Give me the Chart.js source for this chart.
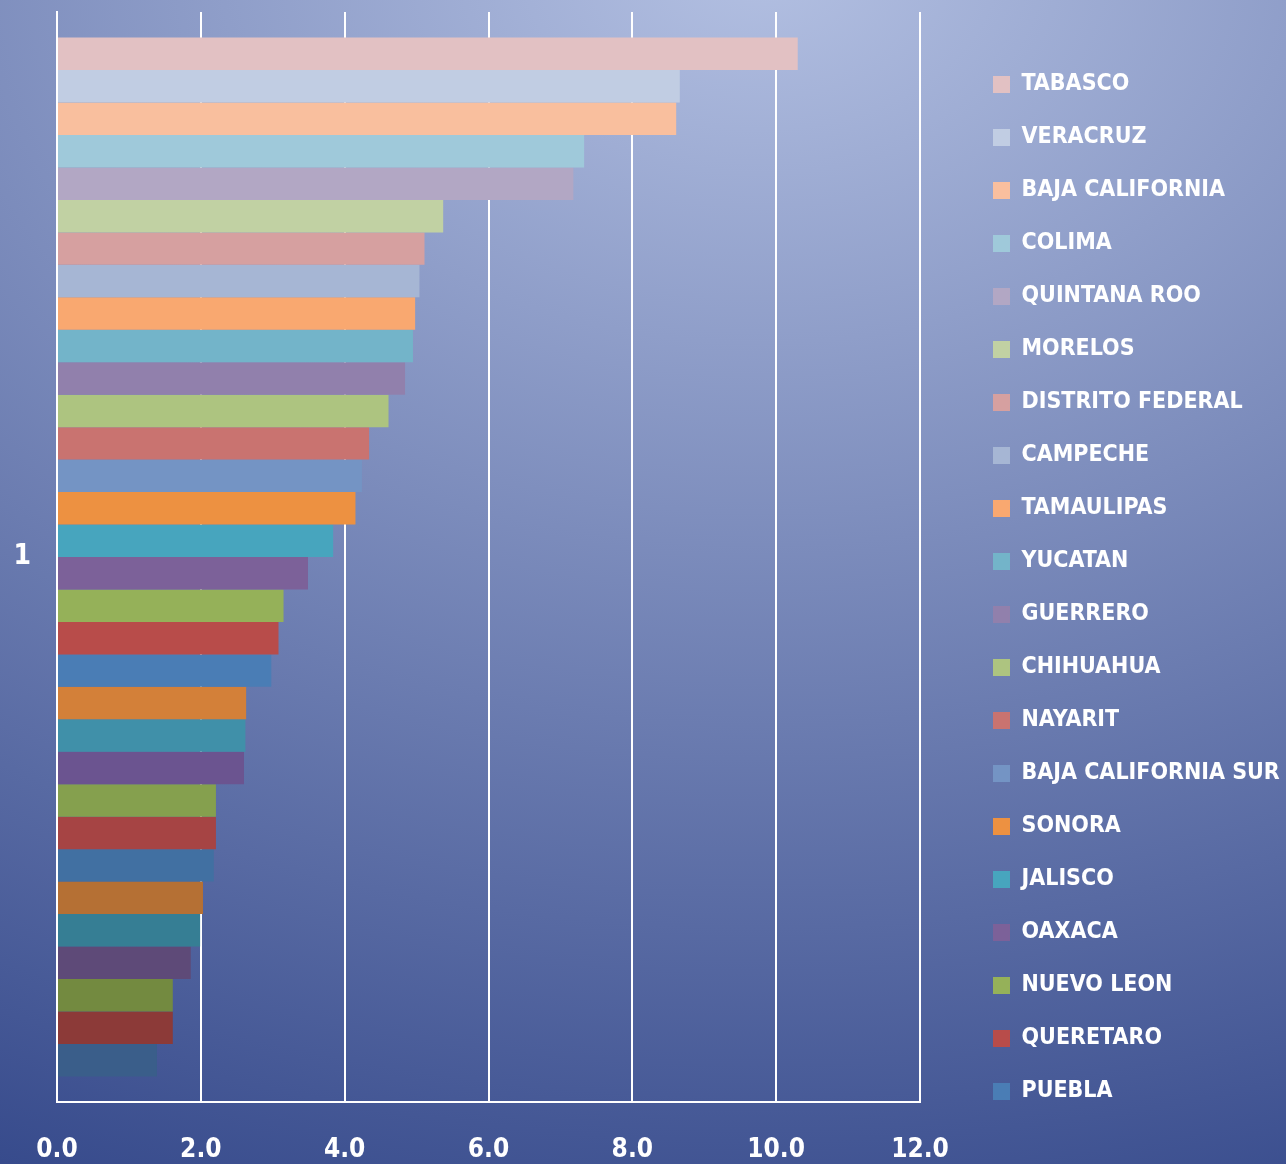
<!DOCTYPE html>
<html>
<head>
<meta charset="utf-8">
<script src="https://cdn.jsdelivr.net/npm/chart.js@4.4.1/dist/chart.umd.min.js"></script>
<style>
    html, body { margin: 0; padding: 0; }
    body {
        width: 1286px;
        height: 1164px;
        overflow: hidden;
        background: radial-gradient(1900px 1350px at 760px -40px, #b3c0e2 0%, #34488a 100%);
    }
    #wrap { width: 1286px; height: 1164px; position: relative; }
</style>
</head>
<body>
<div id="wrap"><canvas id="myChart"></canvas></div>
<script>
//! one category, one dataset per state (only the first 20 go in the legend)

let chart_categories=['1'];
let state_names=['TABASCO','VERACRUZ','BAJA CALIFORNIA','COLIMA','QUINTANA ROO','MORELOS',
    'DISTRITO FEDERAL','CAMPECHE','TAMAULIPAS','YUCATAN','GUERRERO','CHIHUAHUA','NAYARIT',
    'BAJA CALIFORNIA SUR','SONORA','JALISCO','OAXACA','NUEVO LEON','QUERETARO','PUEBLA',
    'SINALOA','GUANAJUATO','MICHOACAN','DURANGO','COAHUILA','SAN LUIS POTOSI','ZACATECAS',
    'HIDALGO','MEXICO','CHIAPAS','AGUASCALIENTES','TLAXCALA'];
let state_values=[10.30,8.66,8.61,7.33,7.18,5.37,5.11,5.04,4.98,4.95,4.84,4.61,4.34,
    4.24,4.15,3.84,3.49,3.15,3.08,2.98,2.63,2.62,2.60,2.21,2.21,2.18,2.03,1.99,1.86,
    1.61,1.61,1.39];
let state_colors=['#e2c1c3','#c1cde3','#f9bf9e','#9fc9da','#b2a7c4','#c1d1a3',
    '#d6a0a0','#a6b6d4','#f9a870','#73b4c9','#9180ac','#adc480','#c97370',
    '#7494c4','#ed9141','#47a5be','#7c6199','#95b159','#b84c4a','#4a7db5',
    '#d38039','#4090a9','#6b5490','#85a04e','#a64444','#4170a2','#b57034',
    '#367e94','#5e4a78','#738a40','#8c3a38','#3a5e8a'];
let x_min=0;
let x_max=12;
let x_step=2;
let legend_count=20;

const label_font="'DejaVu Sans Condensed', 'DejaVu Sans', sans-serif";

function datasets_generator(){
    let sets=[];
    for(let i=0;i<state_names.length;i++){
        sets.push({
            label: state_names[i],
            data: [state_values[i]],
            backgroundColor: state_colors[i],
            borderWidth: 0,
            barPercentage: 1,
            categoryPercentage: 0.953
        });
    }
    return sets;
}

Chart.defaults.color='#ffffff';

const ctx=document.getElementById('myChart').getContext('2d');
const myChart=new Chart(ctx,{
    type: 'bar',
    data: {
        labels: chart_categories,
        datasets: datasets_generator()
    },
    options: {
        indexAxis: 'y',
        responsive: true,
        maintainAspectRatio: false,
        animation: false,
        layout: { padding: { top: 12, left: 0, right: 0, bottom: 0 } },
        scales: {
            x: {
                min: x_min,
                max: x_max,
                ticks: {
                    stepSize: x_step,
                    padding: 33,
                    color: '#ffffff',
                    font: { family: label_font, size: 26, weight: 'bold' },
                    callback: (v)=>v.toFixed(1)
                },
                grid: { color: '#ffffff', lineWidth: 2, drawTicks: false },
                border: { color: '#ffffff', width: 2 },
                afterFit: (s)=>{ s.height=62; }
            },
            y: {
                ticks: {
                    padding: 18,
                    color: '#ffffff',
                    font: { family: label_font, size: 28, weight: 'bold' }
                },
                grid: { display: false },
                border: { color: '#ffffff', width: 2 },
                afterFit: (s)=>{ s.width=57; s.paddingTop=0; s.paddingBottom=0; }
            },
            gap: {
                type: 'linear',
                position: 'right',
                grid: { display: false },
                ticks: { display: false },
                border: { display: false },
                afterFit: (s)=>{ s.width=43; }
            }
        },
        plugins: {
            tooltip: { enabled: false },
            legend: {
                position: 'right',
                maxWidth: 323,
                labels: {
                    boxWidth: 17,
                    boxHeight: 17,
                    padding: 30,
                    color: '#ffffff',
                    font: { family: label_font, size: 23, weight: 'bold' },
                    filter: (item)=>item.datasetIndex<legend_count
                }
            }
        }
    }
});
</script>
</body>
</html>
